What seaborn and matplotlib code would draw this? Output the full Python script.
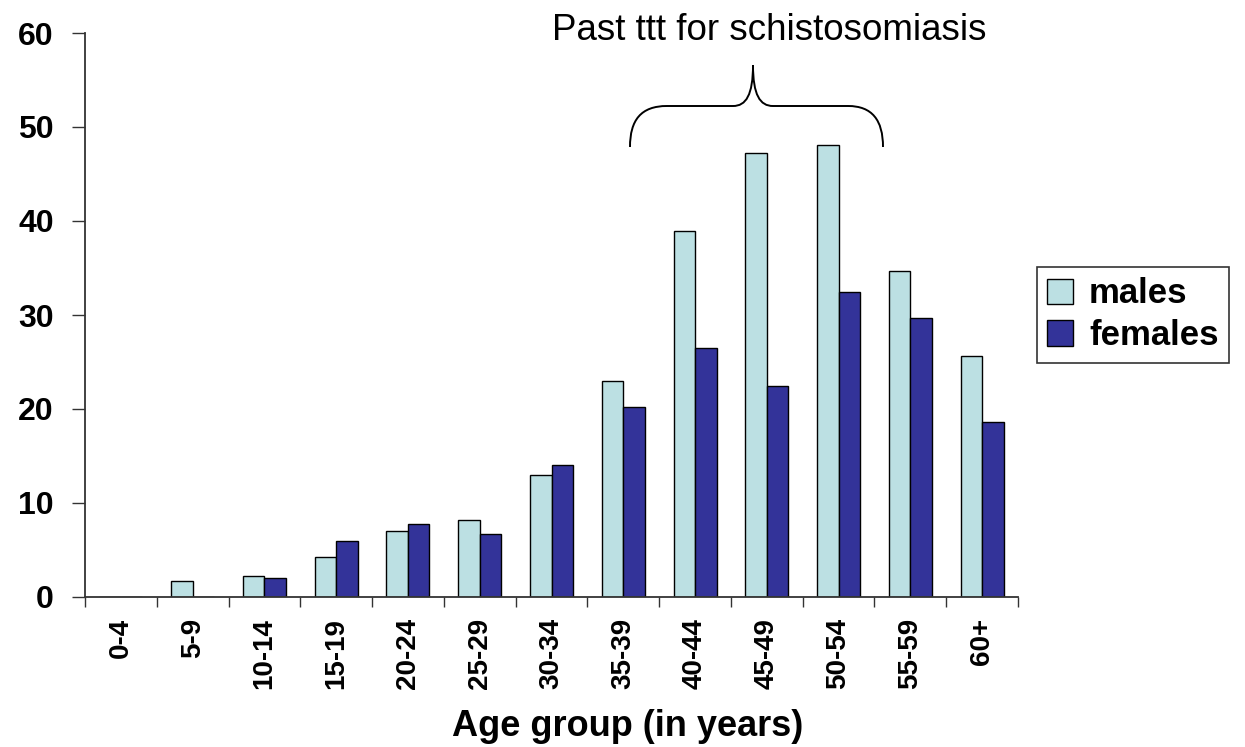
import matplotlib
matplotlib.use("Agg")
import matplotlib.pyplot as plt
from matplotlib.path import Path
from matplotlib.patches import PathPatch, Patch
from matplotlib.ticker import FixedLocator
import numpy as np
import pandas as pd
import seaborn as sns

# Prevalence (%) by age group and sex
age_groups = ["0-4", "5-9", "10-14", "15-19", "20-24", "25-29", "30-34",
              "35-39", "40-44", "45-49", "50-54", "55-59", "60+"]
males = [0.0, 1.7, 2.2, 4.3, 7.0, 8.2, 13.0, 23.0, 38.9, 47.2, 48.1, 34.7, 25.6]
females = [0.0, 0.0, 2.0, 6.0, 7.8, 6.7, 14.0, 20.2, 26.5, 22.4, 32.4, 29.7, 18.6]
series_names = ["males", "females"]
series_colors = ["#BCE0E3", "#333399"]
y_ticks = [0, 10, 20, 30, 40, 50, 60]
x_title = "Age group (in years)"
bracket_text = "Past ttt for schistosomiasis"

df = pd.DataFrame({
    "age": age_groups * 2,
    "value": males + females,
    "sex": [series_names[0]] * len(age_groups) + [series_names[1]] * len(age_groups),
})

sns.set_theme(style="white")
plt.rcParams["font.family"] = ["Liberation Sans", "DejaVu Sans"]
plt.rcParams["text.color"] = "black"
plt.rcParams["xtick.color"] = "black"
plt.rcParams["ytick.color"] = "black"
plt.rcParams["axes.labelcolor"] = "black"

W, H = 1245, 747
fig = plt.figure(figsize=(W / 100, H / 100), dpi=100)
ax = fig.add_axes([85 / W, 150 / H, 933 / W, 564 / H])

sns.barplot(data=df, x="age", y="value", hue="sex", order=age_groups,
            hue_order=series_names, palette=series_colors, width=0.6,
            edgecolor="black", linewidth=1.0, saturation=1, ax=ax, legend=False)

ax.set_xlim(-0.5, len(age_groups) - 0.5)
ax.set_ylim(0, 60)
for s in ["top", "right"]:
    ax.spines[s].set_visible(False)
for s in ["left", "bottom"]:
    ax.spines[s].set_color("#333333")
    ax.spines[s].set_linewidth(1.3)

ax.set_yticks(y_ticks)
ax.set_yticklabels([str(t) for t in y_ticks], fontsize=23, fontweight="bold")
ax.tick_params(axis="y", direction="out", length=9.5, width=1.0, color="#333333",
               pad=13, left=True, labelcolor="black")

ax.set_xticks(range(len(age_groups)))
ax.set_xticklabels(age_groups, rotation=90, fontsize=20, fontweight="bold")
ax.tick_params(axis="x", which="major", length=0, pad=15, labelcolor="black")
ax.xaxis.set_minor_locator(FixedLocator(np.arange(-0.5, len(age_groups), 1.0)))
ax.tick_params(axis="x", which="minor", direction="out", length=7.5, width=1.0,
               color="#333333", bottom=True)
ax.set_xlabel("")
ax.set_ylabel("")

fig.text(628 / W, 1 - 727 / H, x_title, ha="center", va="center",
         fontsize=26, fontweight="bold", color="black")

# Curly bracket over the 35-39 .. 55-59 groups
def px_to_data(px, py):
    return ((px - 85) / (933 / 13) - 0.5, (597 - py) / 9.4)

pts_px = [
    (630, 147), (630, 120), (641, 106), (667, 106),
    (733, 106),
    (746, 106), (753, 95), (753, 65),
    (753, 95), (760, 106), (773, 106),
    (848, 106),
    (872, 106), (883, 120), (883, 147),
]
codes = [Path.MOVETO, Path.CURVE4, Path.CURVE4, Path.CURVE4,
         Path.LINETO,
         Path.CURVE4, Path.CURVE4, Path.CURVE4,
         Path.CURVE4, Path.CURVE4, Path.CURVE4,
         Path.LINETO,
         Path.CURVE4, Path.CURVE4, Path.CURVE4]
brace = Path([px_to_data(*p) for p in pts_px], codes)
ax.add_patch(PathPatch(brace, facecolor="none", edgecolor="black", lw=1.4,
                       clip_on=False))
tx, ty = px_to_data(769, 30)
ax.text(tx, ty, bracket_text, ha="center", va="center", fontsize=26.5,
        color="black", clip_on=False)

handles = [Patch(facecolor=c, edgecolor="black", linewidth=1.0) for c in series_colors]
leg = fig.legend(handles, series_names, loc="upper left",
                 bbox_to_anchor=(1037 / W, 1 - 267 / H),
                 prop={"size": 25, "weight": "bold"},
                 frameon=True, fancybox=False, shadow=False,
                 handlelength=0.75, handleheight=0.75, handletextpad=0.45,
                 labelspacing=0.25, borderpad=0.3, borderaxespad=0)
leg.get_frame().set_edgecolor("black")
leg.get_frame().set_linewidth(1.2)
for t in leg.get_texts():
    t.set_color("black")

fig.savefig("out.png", dpi=100, facecolor="white")
